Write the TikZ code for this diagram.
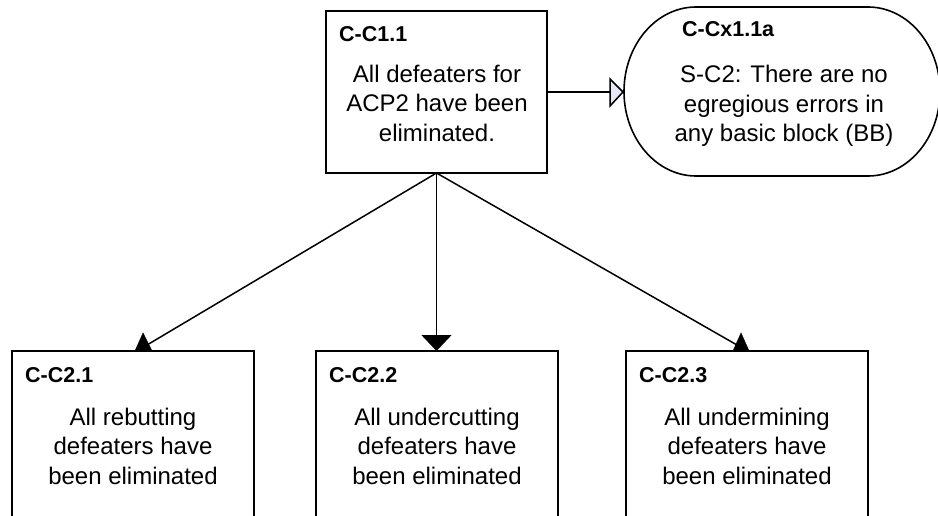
\documentclass[tikz,border=0pt]{standalone}
\usepackage{fontspec}
\setmainfont{Liberation Sans}
\usetikzlibrary{arrows.meta}
\definecolor{tipfill}{RGB}{232,232,248}
\begin{document}
\begin{tikzpicture}[x=1pt,y=-1pt,
  box/.style={draw, line width=1.6pt, inner sep=0pt, outer sep=0pt},
  lbl/.style={anchor=base west, inner sep=0pt, font=\fontsize{21.5}{26}\selectfont\bfseries},
  body/.style={anchor=north, align=center, inner sep=0pt, font=\fontsize{24}{29.5}\selectfont},
  conn/.style={line width=1.5pt},
  head/.style={fill=black, draw=black, line width=0.5pt, line join=miter},
  ohead/.style={fill=tipfill, draw=black, line width=1.5pt, line join=miter}]
\useasboundingbox (0,0) rectangle (938,516);
\clip (0,0) rectangle (938,516);

% goal boxes
\node[box, minimum width=221pt, minimum height=162pt] (c11) at (436.5,92) {};
\node[box, minimum width=242pt, minimum height=230pt] (c21) at (133,466) {};
\node[box, minimum width=242pt, minimum height=230pt] (c22) at (437,466) {};
\node[box, minimum width=242pt, minimum height=230pt] (c23) at (747,466) {};

% context shape
\node[minimum width=316pt, minimum height=169pt, inner sep=0pt, outer sep=0pt] (cx) at (782,91.5) {};
\draw[line width=1.6pt] (696,7) -- (868,7) arc[start angle=-90, end angle=90, x radius=72, y radius=84.5]
  -- (696,176) arc[start angle=90, end angle=270, x radius=72, y radius=84.5] -- cycle;

% connectors
\coordinate (eb) at (610,92);
\draw[conn] (c11.east) -- (eb);
\draw[ohead] (610,79) -- (623,92) -- (610,106) -- cycle;
\draw[conn, -{Triangle[length=16pt, width=30pt]}] (c11.south) -- (c11.south |- c22.north);
\coordinate (e1) at (147,345);
\coordinate (e3) at (737,345);
\draw[conn] (c11.south) -- (e1);
\draw[conn] (c11.south) -- (e3);
\filldraw[head] (135,351) -- (143,333) -- (152,351) -- cycle;
\filldraw[head] (733,351) -- (741,333) -- (749,351) -- cycle;

% texts
\node[lbl] (l11) at (339,42) {C-C1.1};
\node[body] (b11) at (437,64.5) {All defeaters for\\ACP2 have been\\eliminated.};
\node[lbl] (lx) at (682,37) {C-Cx1.1a};
\node[body] (bx) at (784,65) {S-C2: There are no\\egregious errors in\\any basic block (BB)};
\node[lbl] (l21) at (25,382) {C-C2.1};
\node[body] (b21) at (133,407.5) {All rebutting\\defeaters have\\been eliminated};
\node[lbl] (l22) at (329,382) {C-C2.2};
\node[body] (b22) at (437,407.5) {All undercutting\\defeaters have\\been eliminated};
\node[lbl] (l23) at (639,382) {C-C2.3};
\node[body] (b23) at (747,407.5) {All undermining\\defeaters have\\been eliminated};
\end{tikzpicture}
\end{document}
